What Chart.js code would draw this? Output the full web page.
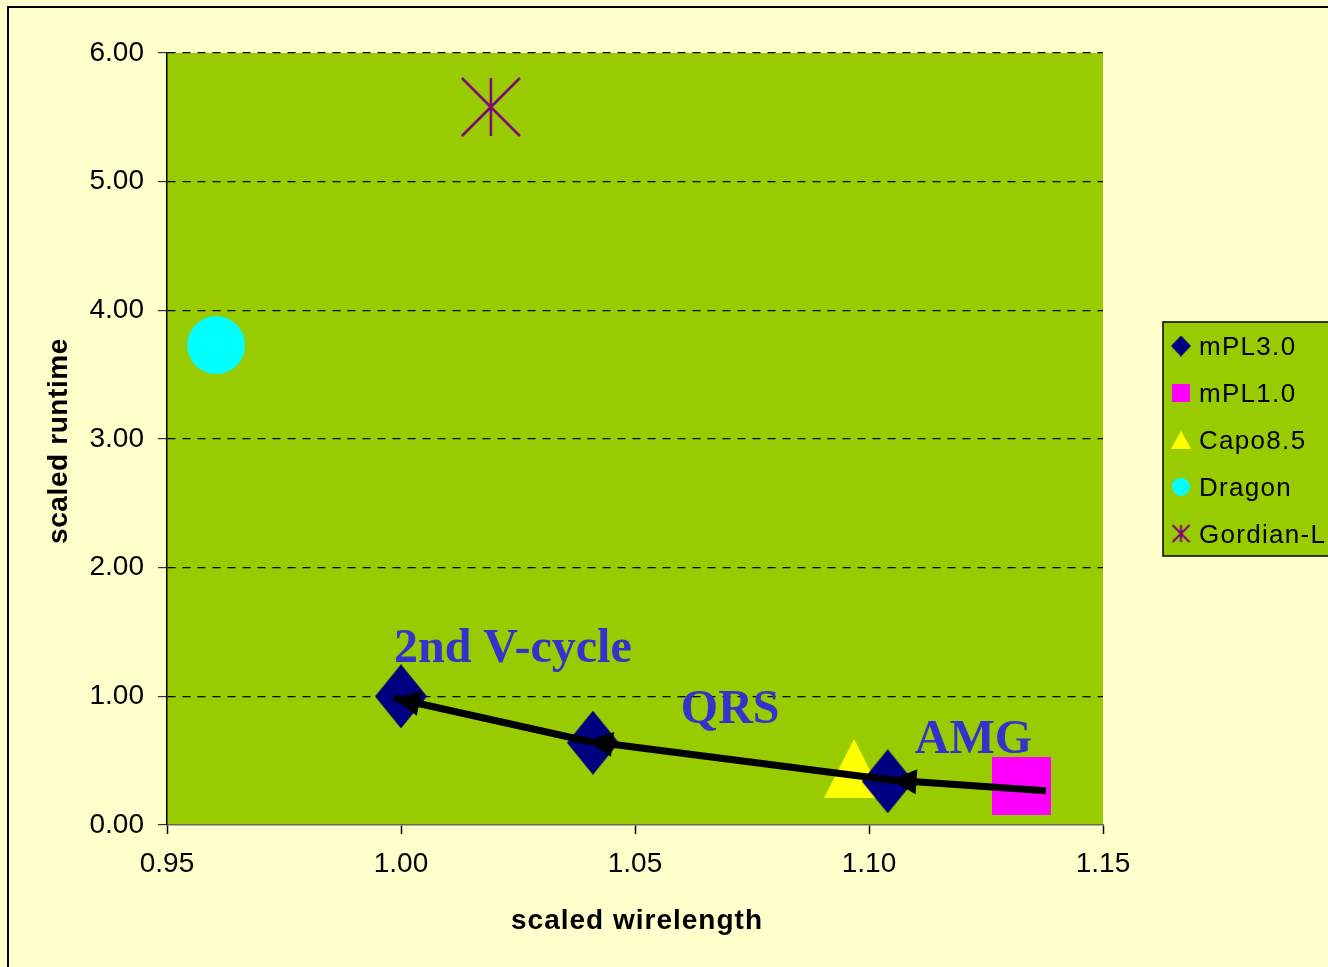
<!DOCTYPE html>
<html lang="en">
<head>
<meta charset="UTF-8">
<title>scaled runtime vs scaled wirelength</title>
<script src="https://cdn.jsdelivr.net/npm/chart.js"></script>
<style>
  html, body { margin: 0; padding: 0; background: #FFFFCC; }
  canvas { display: block; }
</style>
</head>
<body>
<canvas id="myChart" width="1328" height="967"></canvas>
<script>
// values
const seriesNames = ['mPL3.0', 'mPL1.0', 'Capo8.5', 'Dragon', 'Gordian-L'];
const mpl3X = [1.000, 1.041, 1.104];
const mpl3Y = [1.00, 0.64, 0.34];
const mpl1X = [1.1326];
const mpl1Y = [0.30];
const capoX = [1.0968];
const capoY = [0.44];
const dragonX = [0.9605];
const dragonY = [3.73];
const gordianX = [1.0192];
const gordianY = [5.58];

// the black arrow path, right to left
const arrowX = [1.1378, 1.1046, 1.0397, 0.9985];
const arrowY = [0.267, 0.350, 0.653, 0.987];

// blue notes, anchored at their left baseline
const noteText = ['2nd V-cycle', 'QRS', 'AMG'];
const noteX = [0.9985, 1.0598, 1.1098];
const noteY = [1.267, 0.793, 0.560];

const xTicks = [0.95, 1.00, 1.05, 1.10, 1.15];
const xTickLabels = ['0.95', '1.00', '1.05', '1.10', '1.15'];
const yTicks = [0, 1, 2, 3, 4, 5, 6];
const yTickLabels = ['0.00', '1.00', '2.00', '3.00', '4.00', '5.00', '6.00'];

const sans = '"Liberation Sans", Arial, sans-serif';
const serif = '"Liberation Serif", "Times New Roman", serif';

function marker(kind, w, h, color) {
    const c = document.createElement('canvas');
    c.width = w;
    c.height = h;
    const g = c.getContext('2d');
    g.fillStyle = color;
    g.strokeStyle = color;
    g.beginPath();
    if (kind == 'diamond') {
        g.moveTo(w / 2, 0); g.lineTo(w, h / 2); g.lineTo(w / 2, h); g.lineTo(0, h / 2);
        g.closePath(); g.fill();
    } else if (kind == 'square') {
        g.fillRect(0, 0, w, h);
    } else if (kind == 'triangle') {
        g.moveTo(w / 2, 0); g.lineTo(w, h); g.lineTo(0, h);
        g.closePath(); g.fill();
    } else if (kind == 'circle') {
        g.arc(w / 2, h / 2, w / 2, 0, Math.PI * 2); g.fill();
    } else if (kind == 'star') {
        g.lineWidth = w > 30 ? 2.5 : 2;
        g.moveTo(w / 2, 1); g.lineTo(w / 2, h - 1);
        g.moveTo(1, 1); g.lineTo(w - 1, h - 1);
        g.moveTo(w - 1, 1); g.lineTo(1, h - 1);
        g.stroke();
    }
    return c;
}

const kinds = ['diamond', 'square', 'triangle', 'circle', 'star'];
const colors = ['#000080', '#FF00FF', '#FFFF00', '#00FFFF', '#800080'];
const bigSize = [[52, 64], [59, 58], [60, 59], [58, 58], [60, 60]];
const smallSize = [[20, 21], [18, 18], [20, 18], [18, 18], [19, 19]];
const bigMarks = kinds.map((k, i) => marker(k, bigSize[i][0], bigSize[i][1], colors[i]));
const smallMarks = kinds.map((k, i) => marker(k, smallSize[i][0], smallSize[i][1], colors[i]));

function pts(xs, ys) {
    return xs.map((x, i) => ({x: x, y: ys[i]}));
}
const seriesData = [pts(mpl3X, mpl3Y), pts(mpl1X, mpl1Y), pts(capoX, capoY), pts(dragonX, dragonY), pts(gordianX, gordianY)];

const datasets = seriesNames.map((name, i) => ({
    label: name,
    data: seriesData[i],
    pointStyle: bigMarks[i],
    pointRadius: 25,
    borderWidth: 0,
    showLine: false
}));
datasets.push({
    label: 'path',
    data: pts(arrowX, arrowY),
    showLine: true,
    borderColor: '#000',
    borderWidth: 7,
    pointRadius: 0,
    tension: 0,
    order: -1
});

const backdrop = {
    id: 'backdrop',
    beforeDraw(chart) {
        const ctx = chart.ctx, a = chart.chartArea;
        ctx.save();
        ctx.fillStyle = '#FFFFCC';
        ctx.fillRect(0, 0, chart.width, chart.height);
        ctx.strokeStyle = '#000';
        ctx.lineWidth = 2;
        ctx.strokeRect(8, 7, chart.width + 20, chart.height + 20);
        ctx.fillStyle = '#99CC00';
        ctx.fillRect(a.left, a.top, a.right - a.left, a.bottom - a.top);
        ctx.restore();
    }
};

const arrows = {
    id: 'arrows',
    afterDatasetsDraw(chart) {
        const ctx = chart.ctx, xs = chart.scales.x, ys = chart.scales.y;
        ctx.save();
        ctx.fillStyle = '#000';
        for (let i = 1; i < arrowX.length; i++) {
            const tx = xs.getPixelForValue(arrowX[i]), ty = ys.getPixelForValue(arrowY[i]);
            const px = xs.getPixelForValue(arrowX[i - 1]), py = ys.getPixelForValue(arrowY[i - 1]);
            const ang = Math.atan2(ty - py, tx - px);
            ctx.save();
            ctx.translate(tx, ty);
            ctx.rotate(ang);
            ctx.beginPath();
            ctx.moveTo(0, 0);
            ctx.lineTo(-26, -12.5);
            ctx.lineTo(-26, 12.5);
            ctx.closePath();
            ctx.fill();
            ctx.restore();
        }
        // notes
        ctx.fillStyle = '#3333CC';
        ctx.font = 'bold 48px ' + serif;
        ctx.textBaseline = 'alphabetic';
        ctx.textAlign = 'left';
        noteText.forEach((t, i) => {
            ctx.fillText(t, xs.getPixelForValue(noteX[i]), ys.getPixelForValue(noteY[i]));
        });
        ctx.restore();
    }
};

const extras = {
    id: 'extras',
    afterDraw(chart) {
        const ctx = chart.ctx;
        ctx.save();
        // legend box
        ctx.fillStyle = '#99CC00';
        ctx.fillRect(1163, 322, 200, 234);
        ctx.strokeStyle = '#000';
        ctx.lineWidth = 1.5;
        ctx.strokeRect(1163, 322, 200, 234);
        ctx.fillStyle = '#000';
        ctx.font = '26px ' + sans;
        ctx.letterSpacing = '1.3px';
        ctx.textBaseline = 'alphabetic';
        seriesNames.forEach((name, i) => {
            const base = 355 + i * 46.9;
            const m = smallMarks[i];
            ctx.drawImage(m, 1181 - m.width / 2, base - 9 - m.height / 2);
            ctx.fillText(name, 1199, base);
        });
        // axis titles
        ctx.font = 'bold 28px ' + sans;
        ctx.letterSpacing = '1px';
        ctx.textAlign = 'center';
        ctx.fillText('scaled wirelength', 637, 929);
        ctx.letterSpacing = '0.6px';
        ctx.translate(67, 441);
        ctx.rotate(-Math.PI / 2);
        ctx.fillText('scaled runtime', 0, 0);
        ctx.restore();
    }
};

Chart.defaults.font.family = sans;
Chart.defaults.color = '#000';

const ctx = document.getElementById('myChart').getContext('2d');
const myChart = new Chart(ctx, {
    type: 'scatter',
    data: { datasets: datasets },
    options: {
        responsive: false,
        animation: false,
        devicePixelRatio: 1,
        events: [],
        layout: { padding: { left: 0, top: 53, right: 225, bottom: 0 } },
        plugins: {
            legend: { display: false },
            tooltip: { enabled: false }
        },
        scales: {
            x: {
                type: 'linear',
                min: 0.95,
                max: 1.15,
                afterFit: s => { s.height = 142; },
                afterBuildTicks: s => { s.ticks = xTicks.map(v => ({value: v})); },
                ticks: {
                    callback: (v, i) => xTickLabels[i],
                    font: { size: 28 },
                    padding: 13,
                    maxRotation: 0,
                    autoSkip: false
                },
                grid: { drawOnChartArea: false, tickLength: 9, tickColor: '#000', tickWidth: 1.5 },
                border: { color: '#666', width: 1.5 }
            },
            y: {
                type: 'linear',
                min: 0,
                max: 6,
                afterFit: s => { s.width = 167; },
                afterBuildTicks: s => { s.ticks = yTicks.map(v => ({value: v})); },
                ticks: {
                    callback: (v, i) => yTickLabels[i],
                    font: { size: 28 },
                    padding: 14,
                    autoSkip: false
                },
                grid: {
                    color: c => (c.tick && c.tick.value === 0) ? 'rgba(0,0,0,0)' : '#000',
                    lineWidth: 1.2,
                    tickLength: 9,
                    tickColor: '#333',
                    tickWidth: 1.2
                },
                border: { color: '#000', width: 1.5, dash: [8, 7] }
            }
        }
    },
    plugins: [backdrop, arrows, extras]
});
</script>
</body>
</html>
